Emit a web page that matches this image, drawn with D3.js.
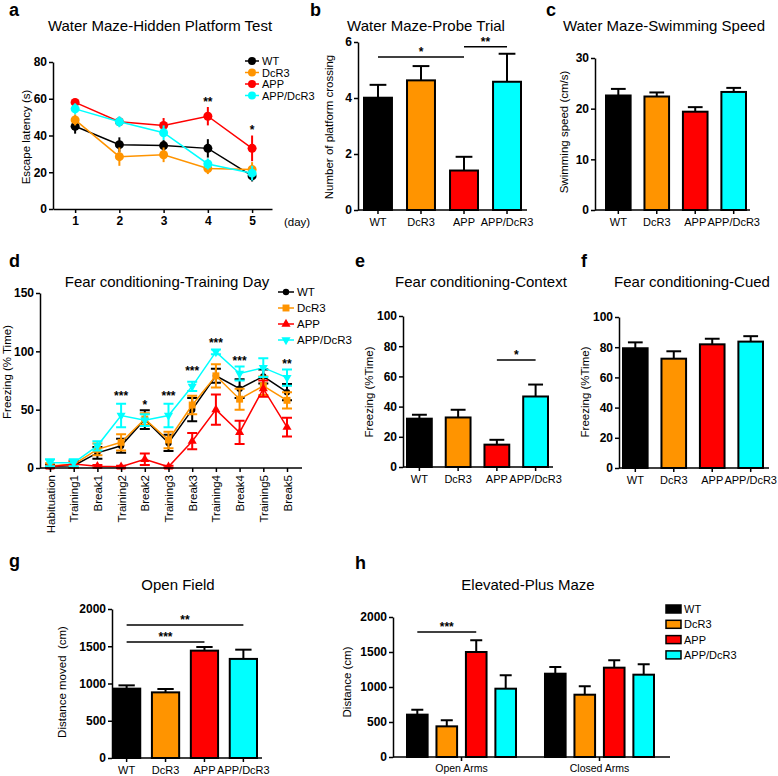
<!DOCTYPE html>
<html>
<head>
<meta charset="utf-8">
<script src="https://cdn.jsdelivr.net/npm/d3@7"></script>
<style>
  body { margin: 0; background: #fff; }
  svg { font-family: "Liberation Sans", Arial, sans-serif; }
  .axis path, .axis line { stroke: #000; stroke-width: 1.5px; }
  .axis text { font-family: "Liberation Sans", Arial, sans-serif; fill: #000; }
  .num text { font-size: 12px; font-weight: bold; }
  .cat text { font-size: 11px; }
</style>
</head>
<body>
<div id="chart"></div>
<script>
// groups and colours
const groups = ["WT", "DcR3", "APP", "APP/DcR3"];
const colors = ["#000000", "#ff9400", "#ff0000", "#00ffff"];

// a: hidden platform test (escape latency, s)
const days = [1, 2, 3, 4, 5];
const latencyMean = [
  [45, 35, 34.5, 33, 18],
  [48.5, 28.5, 29.5, 22, 21.5],
  [58, 47.5, 45.5, 50.5, 33],
  [54.5, 47.5, 41.5, 24.5, 19.5]
];
const latencyErr = [
  [4, 4, 3, 5, 3],
  [3, 5, 4, 3, 4],
  [2, 2, 4, 5, 7],
  [3, 3, 4, 3, 4]
];
const sigA = [{ day: 4, v: 56, t: "**" }, { day: 5, v: 41, t: "*" }];

// b: probe trial
const crossing = [4.01, 4.63, 1.41, 4.58];
const crossingErr = [0.46, 0.51, 0.49, 1.0];
const sigB = [{ a: "WT", b: "APP", v: 5.46, t: "*" }, { a: "APP", b: "APP/DcR3", v: 5.83, t: "**" }];

// c: swimming speed
const speed = [22.6, 22.4, 19.4, 23.3];
const speedErr = [1.3, 0.8, 0.9, 0.8];

// d: fear conditioning training day
const phases = ["Habituation", "Training1", "Break1", "Training2", "Break2", "Training3",
  "Break3", "Training4", "Break4", "Training5", "Break5"];
const freezeMean = [
  [1.5, 2, 13, 19, 41.5, 21.5, 50, 79, 68, 78.5, 65],
  [2, 3, 16, 22, 42, 24, 54, 79, 59, 70.5, 58],
  [1, 3.5, 1.5, 1, 7.5, 1, 23, 50, 30.5, 68, 35],
  [4.5, 4.5, 19, 45, 41, 45, 70, 99.5, 81, 86, 77.5]
];
const freezeErr = [
  [2, 3, 5, 6, 8, 7, 10, 6, 8, 6, 7],
  [2, 3, 5, 7, 5, 7, 8, 10, 9, 8, 7],
  [1, 3, 1, 1, 5, 1, 7, 13, 10, 7, 8],
  [3, 3, 4, 10, 5, 10, 4, 2, 6, 8, 7]
];
const sigD = [
  { p: "Training2", v: 58, t: "***" }, { p: "Break2", v: 50.5, t: "*" },
  { p: "Training3", v: 58, t: "***" }, { p: "Break3", v: 80, t: "***" },
  { p: "Training4", v: 104, t: "***" }, { p: "Break4", v: 88, t: "***" },
  { p: "Break5", v: 86, t: "**" }
];

// e: context
const contextFreeze = [32, 32.8, 14.8, 46.7];
const contextErr = [2.6, 5.1, 3.2, 7.9];
const sigE = [{ a: "APP", b: "APP/DcR3", v: 70.9, t: "*" }];

// f: cued
const cuedFreeze = [79.3, 72.4, 81.9, 83.7];
const cuedErr = [3.9, 4.9, 3.7, 3.6];

// g: open field
const openField = [931, 881, 1441, 1330];
const openFieldErr = [44, 45, 49, 124];
const sigG = [{ a: "WT", b: "APP", v: 1557, t: "***" }, { a: "WT", b: "APP/DcR3", v: 1785, t: "**" }];

// h: elevated plus maze
const arms = ["Open Arms", "Closed Arms"];
const epmMean = [
  [605, 438, 1500, 976],
  [1190, 890, 1276, 1176]
];
const epmErr = [
  [71, 86, 167, 191],
  [96, 120, 105, 148]
];

const svg = d3.select("#chart").append("svg")
  .attr("width", 778)
  .attr("height", 776);

function text(x, y, s, size, opts = {}) {
  const t = svg.append("text")
    .attr("x", x).attr("y", y)
    .attr("font-size", size)
    .attr("text-anchor", opts.anchor || "middle")
    .attr("font-weight", opts.bold ? "bold" : null)
    .style("white-space", "pre")
    .text(s);
  return t;
}

function yLabel(x, y, s) {
  svg.append("text")
    .attr("transform", `translate(${x},${y}) rotate(-90)`)
    .attr("text-anchor", "middle")
    .attr("font-size", 11.5)
    .style("white-space", "pre")
    .text(s);
}

function yAxis(y, x, ticks) {
  svg.append("g").attr("class", "axis num")
    .attr("transform", `translate(${x},0)`)
    .call(d3.axisLeft(y).tickValues(ticks).tickFormat(d3.format("d"))
      .tickSize(4).tickSizeOuter(0).tickPadding(2));
}

function sigLines(list, xs, y, size) {
  list.forEach(s => {
    const x1 = xs(s.a), x2 = xs(s.b), yy = y(s.v);
    svg.append("line").attr("x1", x1).attr("x2", x2).attr("y1", yy).attr("y2", yy)
      .attr("stroke", "#000").attr("stroke-width", 1.5);
    text((x1 + x2) / 2, yy - 1, s.t, size || 12, { bold: true });
  });
}

// bar panel with four genotype bars
function barPanel(o) {
  const y = d3.scaleLinear().domain([0, o.yMax]).range([o.bottom, o.top]);
  const x = d3.scaleBand().domain(groups).range([o.barsLeft, o.barsRight]).paddingInner(o.pad || 0.36);
  const cx = g => x(g) + x.bandwidth() / 2;

  const bars = svg.append("g");
  o.values.forEach((v, i) => {
    const g = groups[i];
    const cap = x.bandwidth() * 0.3;
    bars.append("line")
      .attr("x1", cx(g)).attr("x2", cx(g))
      .attr("y1", y(v)).attr("y2", y(v + o.errs[i]))
      .attr("stroke", "#000").attr("stroke-width", 2);
    bars.append("line")
      .attr("x1", cx(g) - cap).attr("x2", cx(g) + cap)
      .attr("y1", y(v + o.errs[i])).attr("y2", y(v + o.errs[i]))
      .attr("stroke", "#000").attr("stroke-width", 2);
    bars.append("rect")
      .attr("x", x(g)).attr("y", y(v))
      .attr("width", x.bandwidth()).attr("height", y(0) - y(v))
      .attr("fill", colors[i]).attr("stroke", "#000").attr("stroke-width", 2);
  });

  yAxis(y, o.left, o.ticks);
  svg.append("line").attr("x1", o.left).attr("x2", o.right)
    .attr("y1", o.bottom).attr("y2", o.bottom)
    .attr("stroke", "#000").attr("stroke-width", 1.5);
  svg.append("g").attr("class", "axis cat")
    .attr("transform", `translate(0,${o.bottom})`)
    .call(d3.axisBottom(x).tickSize(4).tickPadding(4))
    .call(g => g.select(".domain").remove());

  if (o.sig) sigLines(o.sig, cx, y, o.sigSize);
  text(o.titleX, o.titleY, o.title, 15);
  text(o.letterX, o.letterY, o.letter, 18, { bold: true, anchor: "start" });
  yLabel(o.labelX, o.labelY, o.ylabel);
}

// ---------- a ----------
{
  const x = d3.scaleLinear().domain([0.5, 5.45]).range([53, 272]);
  const y = d3.scaleLinear().domain([0, 80]).range([209, 62]);
  latencyMean.forEach((series, i) => {
    const g = svg.append("g");
    g.append("path")
      .datum(series)
      .attr("fill", "none").attr("stroke", colors[i]).attr("stroke-width", 1.5)
      .attr("d", d3.line().x((d, j) => x(days[j])).y(d => y(d)));
    g.selectAll(".err").data(series).join("line")
      .attr("x1", (d, j) => x(days[j])).attr("x2", (d, j) => x(days[j]))
      .attr("y1", (d, j) => y(d - latencyErr[i][j])).attr("y2", (d, j) => y(d + latencyErr[i][j]))
      .attr("stroke", colors[i]).attr("stroke-width", 2);
    g.selectAll("circle").data(series).join("circle")
      .attr("cx", (d, j) => x(days[j])).attr("cy", d => y(d))
      .attr("r", 4.5).attr("fill", colors[i]);
  });
  yAxis(y, 53, [0, 20, 40, 60, 80]);
  svg.append("g").attr("class", "axis num")
    .attr("transform", "translate(0,209)")
    .call(d3.axisBottom(x).tickValues(days).tickFormat(d3.format("d"))
      .tickSize(4).tickSizeOuter(0).tickPadding(3));
  sigA.forEach(s => text(x(s.day), y(s.v), s.t, 12, { bold: true }));
  text(284, 226, "(day)", 11.5, { anchor: "start" });
  groups.forEach((gname, i) => {
    const ly = 61 + i * 11.5;
    svg.append("line").attr("x1", 245).attr("x2", 259).attr("y1", ly).attr("y2", ly)
      .attr("stroke", colors[i]).attr("stroke-width", 1.5);
    svg.append("circle").attr("cx", 252).attr("cy", ly).attr("r", 4).attr("fill", colors[i]);
    text(262, ly + 4, gname, 11, { anchor: "start" });
  });
  text(160, 31, "Water Maze-Hidden Platform Test", 15);
  text(9, 16, "a", 18, { bold: true, anchor: "start" });
  yLabel(30, 137, "Escape latency (s)");
}

// ---------- b ----------
barPanel({
  left: 358, right: 527, top: 42, bottom: 210, yMax: 6, ticks: [0, 2, 4, 6],
  barsLeft: 364, barsRight: 521, pad: 0.35, values: crossing, errs: crossingErr, sig: sigB,
  title: "Water Maze-Probe Trial", titleX: 426, titleY: 31,
  letter: "b", letterX: 310, letterY: 16,
  ylabel: "Number of platform crossing", labelX: 333, labelY: 127
});

// ---------- c ----------
barPanel({
  left: 595, right: 750, top: 58, bottom: 210, yMax: 30, ticks: [0, 10, 20, 30],
  barsLeft: 606, barsRight: 746, values: speed, errs: speedErr,
  title: "Water Maze-Swimming Speed", titleX: 664, titleY: 31,
  letter: "c", letterX: 546, letterY: 16,
  ylabel: "Swimming speed (cm/s)", labelX: 568, labelY: 132
});

// ---------- d ----------
{
  const x = d3.scalePoint().domain(phases).range([50, 287]);
  const y = d3.scaleLinear().domain([0, 150]).range([468, 293]);
  const shapes = [
    { type: d3.symbolCircle, size: 32, rot: 0 },
    { type: d3.symbolSquare, size: 48, rot: 0 },
    { type: d3.symbolTriangle, size: 36, rot: 0 },
    { type: d3.symbolTriangle, size: 36, rot: 180 }
  ];
  freezeMean.forEach((series, i) => {
    const g = svg.append("g");
    g.append("path")
      .datum(series)
      .attr("fill", "none").attr("stroke", colors[i]).attr("stroke-width", 1.5)
      .attr("d", d3.line().x((d, j) => x(phases[j])).y(d => y(d)));
    series.forEach((d, j) => {
      const px = x(phases[j]);
      const lo = y(Math.max(0, d - freezeErr[i][j])), hi = y(d + freezeErr[i][j]);
      g.append("path")
        .attr("d", `M${px},${lo}V${hi}M${px - 5},${lo}H${px + 5}M${px - 5},${hi}H${px + 5}`)
        .attr("stroke", colors[i]).attr("stroke-width", 2).attr("fill", "none");
      g.append("path")
        .attr("d", d3.symbol().type(shapes[i].type).size(shapes[i].size)())
        .attr("transform", `translate(${px},${y(d)}) rotate(${shapes[i].rot})`)
        .attr("fill", colors[i]);
    });
  });
  yAxis(y, 40, [0, 50, 100, 150]);
  svg.append("line").attr("x1", 40).attr("x2", 302).attr("y1", 468).attr("y2", 468)
    .attr("stroke", "#000").attr("stroke-width", 1.5);
  svg.append("g").attr("class", "axis cat")
    .attr("transform", "translate(0,468)")
    .call(d3.axisBottom(x).tickSize(4))
    .call(g => g.select(".domain").remove())
    .selectAll("text")
    .style("font-size", "11.5px")
    .attr("y", 0).attr("x", -7).attr("dy", "0.35em")
    .attr("transform", "rotate(-90)")
    .style("text-anchor", "end");
  sigD.forEach(s => text(x(s.p), y(s.v), s.t, 12, { bold: true }));
  groups.forEach((gname, i) => {
    const ly = 292 + i * 16;
    svg.append("line").attr("x1", 278).attr("x2", 294).attr("y1", ly).attr("y2", ly)
      .attr("stroke", colors[i]).attr("stroke-width", 1.5);
    svg.append("path")
      .attr("d", d3.symbol().type(shapes[i].type).size(shapes[i].size)())
      .attr("transform", `translate(286,${ly}) rotate(${shapes[i].rot})`)
      .attr("fill", colors[i]);
    text(297, ly + 4, gname, 11.5, { anchor: "start" });
  });
  text(167, 287, "Fear conditioning-Training Day", 15);
  text(9, 267, "d", 18, { bold: true, anchor: "start" });
  yLabel(11, 372, "Freezing (% Time)");
}

// ---------- e ----------
barPanel({
  left: 403, right: 553, top: 316, bottom: 467, yMax: 100, ticks: [0, 20, 40, 60, 80, 100],
  barsLeft: 407, barsRight: 548, values: contextFreeze, errs: contextErr, sig: sigE,
  title: "Fear conditioning-Context", titleX: 481, titleY: 287,
  letter: "e", letterX: 355, letterY: 267,
  ylabel: "Freezing (%Time)", labelX: 373, labelY: 392
});

// ---------- f ----------
barPanel({
  left: 619, right: 769, top: 317, bottom: 468, yMax: 100, ticks: [0, 20, 40, 60, 80, 100],
  barsLeft: 623, barsRight: 763, values: cuedFreeze, errs: cuedErr,
  title: "Fear conditioning-Cued", titleX: 692, titleY: 287,
  letter: "f", letterX: 581, letterY: 267,
  ylabel: "Freezing (%Time)", labelX: 589, labelY: 392
});

// ---------- g ----------
barPanel({
  left: 112, right: 262, top: 609, bottom: 758, yMax: 2000, ticks: [0, 500, 1000, 1500, 2000],
  barsLeft: 113, barsRight: 257, pad: 0.3, values: openField, errs: openFieldErr, sig: sigG,
  title: "Open Field", titleX: 178, titleY: 590,
  letter: "g", letterX: 9, letterY: 567,
  ylabel: "Distance moved  (cm)", labelX: 66, labelY: 682
});

// ---------- h ----------
{
  const y = d3.scaleLinear().domain([0, 2000]).range([757, 617]);
  const x0 = d3.scaleBand().domain(arms).range([407, 654]).paddingInner(0.21);
  const x1 = d3.scaleBand().domain(groups).range([0, x0.bandwidth()]).paddingInner(0.3);
  arms.forEach((arm, a) => {
    epmMean[a].forEach((v, i) => {
      const bx = x0(arm) + x1(groups[i]);
      const cx = bx + x1.bandwidth() / 2;
      const top = y(v + epmErr[a][i]);
      svg.append("path")
        .attr("d", `M${cx},${y(v)}V${top}M${cx - 6},${top}H${cx + 6}`)
        .attr("stroke", "#000").attr("stroke-width", 2);
      svg.append("rect")
        .attr("x", bx).attr("y", y(v))
        .attr("width", x1.bandwidth()).attr("height", y(0) - y(v))
        .attr("fill", colors[i]).attr("stroke", "#000").attr("stroke-width", 2);
    });
  });
  yAxis(y, 393, [0, 500, 1000, 1500, 2000]);
  svg.append("line").attr("x1", 393).attr("x2", 670).attr("y1", 757).attr("y2", 757)
    .attr("stroke", "#000").attr("stroke-width", 1.5);
  svg.append("g").attr("class", "axis")
    .attr("transform", "translate(0,757)")
    .call(d3.axisBottom(x0).tickSize(4).tickPadding(4))
    .call(g => g.select(".domain").remove())
    .selectAll("text").style("font-size", "10.5px");
  // significance: WT vs APP in open arms
  const cxh = i => x0("Open Arms") + x1(groups[i]) + x1.bandwidth() / 2;
  const sy = y(1786);
  svg.append("line").attr("x1", cxh(0)).attr("x2", cxh(2)).attr("y1", sy).attr("y2", sy)
    .attr("stroke", "#000").attr("stroke-width", 1.5);
  text((cxh(0) + cxh(2)) / 2, sy - 1, "***", 12, { bold: true });
  groups.forEach((gname, i) => {
    const ly = 609 + i * 15.3;
    svg.append("rect").attr("x", 666).attr("y", ly - 4).attr("width", 15).attr("height", 8)
      .attr("fill", colors[i]).attr("stroke", "#000").attr("stroke-width", 1.5);
    text(684, ly + 4, gname, 11, { anchor: "start" });
  });
  text(528, 590, "Elevated-Plus Maze", 15);
  text(355, 569, "h", 18, { bold: true, anchor: "start" });
  yLabel(351, 682, "Distance (cm)");
}
</script>
</body>
</html>
